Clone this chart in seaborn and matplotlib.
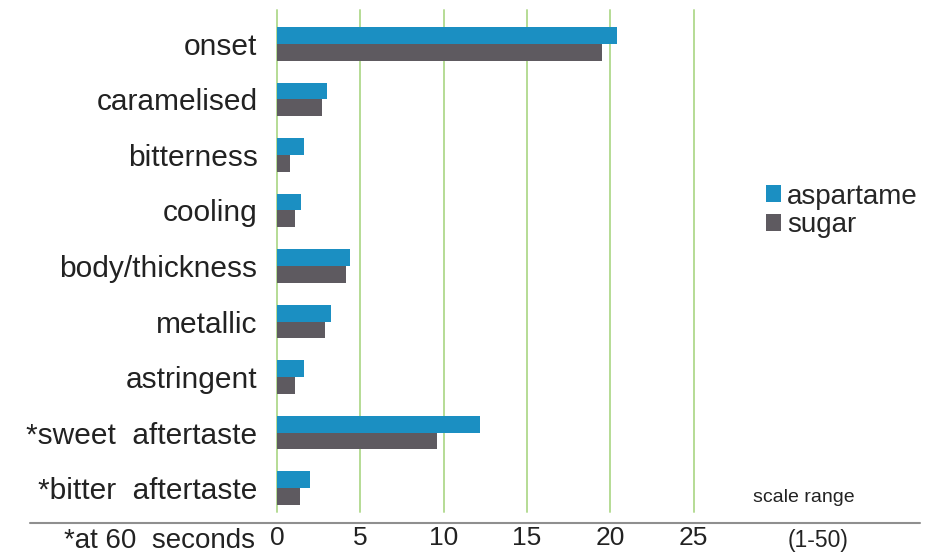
import matplotlib
matplotlib.use("Agg")
import matplotlib.pyplot as plt
from matplotlib.lines import Line2D
from matplotlib.patches import Patch
import pandas as pd
import seaborn as sns

attributes = ["onset", "caramelised", "bitterness", "cooling", "body/thickness",
              "metallic", "astringent", "*sweet  aftertaste", "*bitter  aftertaste"]
aspartame = [20.4, 3.0, 1.6, 1.45, 4.4, 3.25, 1.6, 12.2, 2.0]
sugar = [19.5, 2.7, 0.75, 1.05, 4.15, 2.9, 1.05, 9.6, 1.4]
series = ["aspartame", "sugar"]
xticks = [0, 5, 10, 15, 20, 25]

BLUE = "#1b8fc2"
GREY = "#5e5a60"
GREEN = "#b5dc95"
INK = "#222222"
FONT = ["Liberation Sans", "DejaVu Sans"]

df = pd.DataFrame({
    "attribute": attributes * 2,
    "score": aspartame + sugar,
    "sweetener": [series[0]] * len(attributes) + [series[1]] * len(attributes),
})

sns.set_style("white")
plt.rcParams["font.family"] = FONT

fig = plt.figure(figsize=(9.27, 5.54), dpi=100)
ax = fig.add_axes([277 / 927, 1 - 512 / 554, (740 - 277) / 927, (512 - 10) / 554])

sns.barplot(data=df, y="attribute", x="score", hue="sweetener", order=attributes,
            hue_order=series, palette=[BLUE, GREY], orient="h", width=0.6,
            saturation=1, linewidth=0, legend=False, ax=ax)

ax.set_xlim(0, (740 - 277) / 16.67)
ax.set_ylim(8.43, -0.61)
ax.set_xticks(xticks)
ax.set_xticklabels([str(t) for t in xticks], fontsize=19, color=INK)
ax.tick_params(axis="x", length=0, pad=10)
ax.tick_params(axis="y", length=0, pad=14, labelsize=21.5, labelcolor=INK)
ax.set_xlabel("")
ax.set_ylabel("")
for s in ax.spines.values():
    s.set_visible(False)
for t in xticks:
    ax.axvline(t, color=GREEN, lw=1.4, zorder=0, clip_on=False)

# baseline rule under the chart
fig.add_artist(Line2D([30 / 927, 920 / 927], [1 - 523 / 554] * 2,
                      color="#8f8f8f", lw=1.5))

fig.text(255 / 927, 1 - 541 / 554, "*at 60  seconds", ha="right", va="center",
         fontsize=20, color=INK)
fig.text(804 / 927, 1 - 497 / 554, "scale range", ha="center", va="center",
         fontsize=14, color=INK)
fig.text(818 / 927, 1 - 541 / 554, "(1-50)", ha="center", va="center",
         fontsize=16.5, color=INK)

handles = [Patch(facecolor=BLUE, edgecolor="none"), Patch(facecolor=GREY, edgecolor="none")]
fig.legend(handles, series, loc="center left", bbox_to_anchor=(741 / 927, 1 - 211 / 554),
           frameon=False, handlelength=0.55, handleheight=0.55, handletextpad=0.2,
           labelspacing=0.1, prop={"family": FONT, "size": 20})

fig.savefig("out.png", dpi=100)
